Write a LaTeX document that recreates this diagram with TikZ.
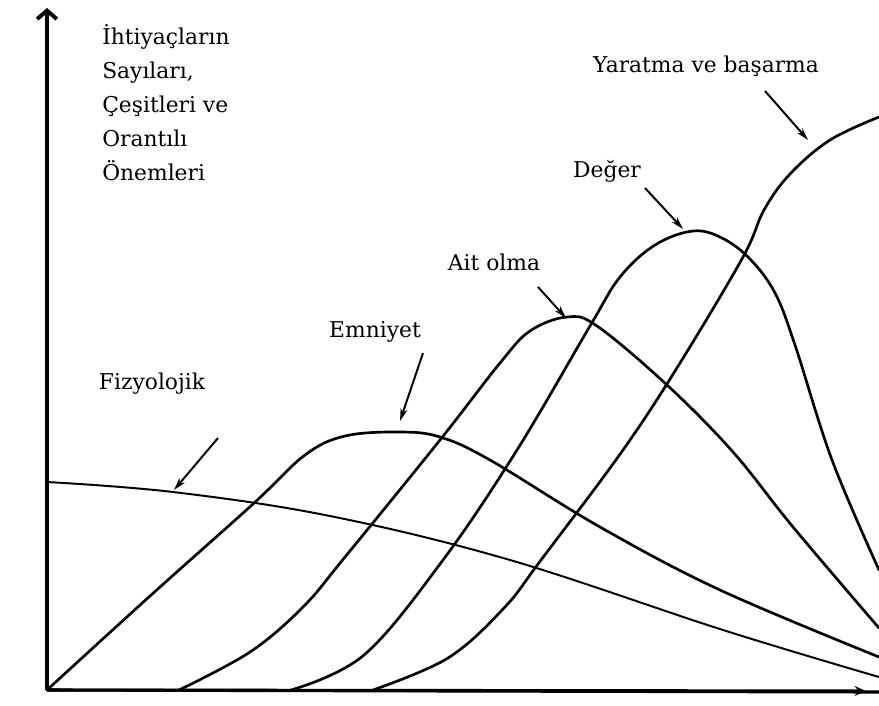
\documentclass[tikz,border=0pt]{standalone}
\usepackage{fontspec}
\setmainfont{DejaVu Serif}
\usetikzlibrary{arrows.meta}
\tikzset{
	curve/.style={line width=1.9pt, line join=round, line cap=round},
	lbl/.style={font=\fontsize{15.5}{24.2}\selectfont, inner sep=0pt},
	pointer/.style={line width=1.4pt, -{Stealth[length=9pt, width=5pt]}}
}
\begin{document}
\begin{tikzpicture}[x=0.025cm, y=-0.025cm]
			\useasboundingbox (0,0) rectangle (879,705);
			\coordinate (O) at (47,690);
			\coordinate (ytop) at (47,8);
			\coordinate (xend) at (879,692);
			\coordinate (xtip) at (866,691);
			\draw[line width=2.2pt, -{Straight Barb[length=6pt, width=14pt, line width=2.8pt]}] (O) -- (ytop);
			\draw[line width=2.2pt] (O) -- (xend);
			\draw[line width=2.2pt, -{Stealth[length=8pt, width=7pt]}] (O) -- (xtip);
			\node[lbl, anchor=north west, align=left] (ylabel) at (102,24) {İhtiyaçların\\Sayıları,\\Çeşitleri ve\\Orantılı\\Önemleri};
			% needs curves
			\draw[curve, line width=1.4pt] plot[smooth, tension=0.6] coordinates {(47,482) (173,492) (330,516) (510,560) (723,630) (879,677)};
			\draw[curve] plot[smooth, tension=0.6] coordinates {(47,690) (150,596) (253,504) (305,455) (345,436) (400,432) (440,437) (490,460) (600,527) (720,590) (879,657)};
			\draw[curve] plot[smooth, tension=0.6] coordinates {(179,690) (250,652) (303,607) (345,557) (440,440) (500,363) (530,331) (567,317) (597,326) (667,385) (733,452) (793,527) (879,628)};
			\draw[curve] plot[smooth, tension=0.6] coordinates {(291,690) (364,655) (443,560) (517,450) (590,326) (620,277) (655,245) (693,231) (722,238) (750,259) (775,293) (795,345) (832,460) (879,570)};
			\draw[curve] plot[smooth, tension=0.6] coordinates {(373,690) (448,658) (504,608) (541,560) (623,450) (680,363) (743,257) (764,210) (790,174) (830,140) (879,117)};
			% labels
			\node[lbl, anchor=base] (fiz) at (152,389) {Fizyolojik};
			\node[lbl, anchor=base] (emn) at (375,337) {Emniyet};
			\node[lbl, anchor=base] (ait) at (494,270) {Ait olma};
			\node[lbl, anchor=base] (deg) at (607,177) {Değer};
			\node[lbl, anchor=base] (yar) at (706,72) {Yaratma ve başarma};
			\coordinate (fizA) at (218,438); \coordinate (fizB) at (174,490);
			\coordinate (emnA) at (423,353); \coordinate (emnB) at (400,421);
			\coordinate (aitA) at (538,287); \coordinate (aitB) at (566,318);
			\coordinate (degA) at (645,188); \coordinate (degB) at (683,229);
			\coordinate (yarA) at (765,91); \coordinate (yarB) at (808,140);
			\draw[pointer] (fizA) -- (fizB);
			\draw[pointer] (emnA) -- (emnB);
			\draw[pointer] (aitA) -- (aitB);
			\draw[pointer] (degA) -- (degB);
			\draw[pointer] (yarA) -- (yarB);
\end{tikzpicture}
\end{document}
